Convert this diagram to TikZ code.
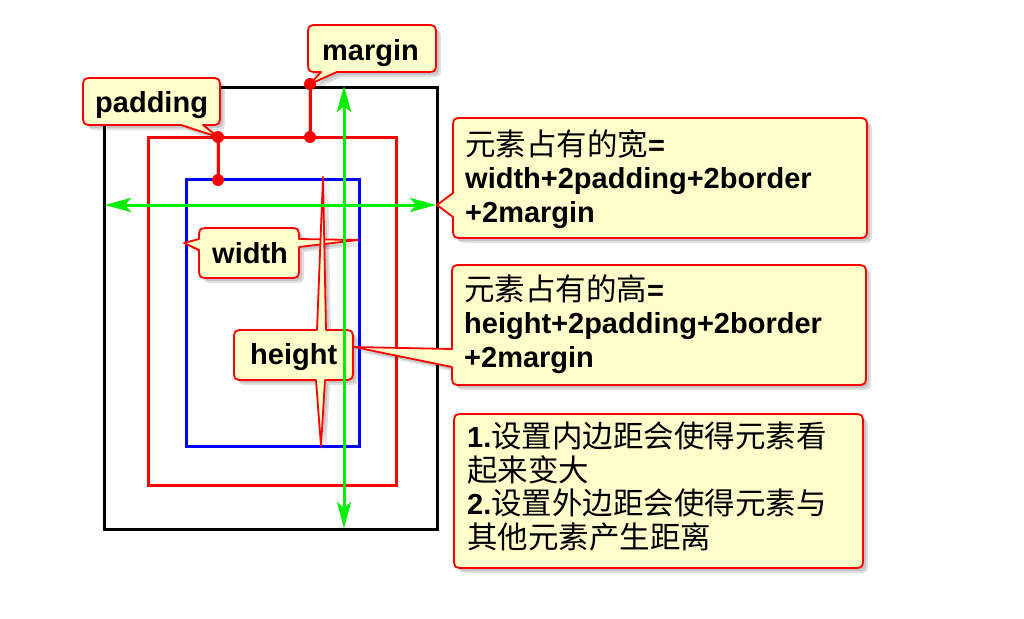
\documentclass[tikz,border=0pt]{standalone}
\usepackage{fontspec}
\setmainfont{Liberation Sans}
\newfontfamily\cjk{Noto Sans CJK SC}
\usetikzlibrary{arrows.meta}
\definecolor{cyellow}{HTML}{FFFFCC}
\definecolor{cgreen}{HTML}{00F000}
\newcommand\zh[1]{{\cjk\mdseries\fontsize{30.5}{33.5}\selectfont #1}}
% rounded callout outline: x1,y1,x2,y2, tails on top, right, bottom, left edge
\newcommand\cpath[8]{(#1+11,#2) #5 -- (#3-11,#2) .. controls (#3,#2) .. (#3,#2+11) #6 -- (#3,#4-11) .. controls (#3,#4) .. (#3-11,#4) #7 -- (#1+11,#4) .. controls (#1,#4) .. (#1,#4-11) #8 -- (#1,#2+11) .. controls (#1,#2) .. (#1+11,#2) -- cycle}
\def\pMargin{\cpath{308}{25}{436}{72}{}{}{-- (337,72) -- (310,84) -- (321,72)}{}}
\def\pPadding{\cpath{83}{78}{220}{125}{}{}{-- (203,125) -- (218,137) -- (181,125)}{}}
\def\pWidth{\cpath{199}{228}{299}{278}{}{-- (299,239) -- (358,240) -- (299,247)}{}{-- (199,250) -- (184,243) -- (199,239)}}
\def\pHeight{\cpath{234}{330}{353}{380}{-- (317,330) -- (323,177) -- (326,330)}{}{-- (325,380) -- (321,446) -- (316,380)}{}}
\def\pWide{\cpath{453}{118}{867}{238}{}{}{}{-- (453,217) -- (437,205) -- (453,193)}}
\def\pHigh{\cpath{452}{265}{866}{385}{}{}{}{-- (452,367) -- (354,347) -- (452,349)}}
\def\pNote{\cpath{454}{414}{863}{568}{}{}{}{}}
\tikzset{
  cbox/.style={draw=red, line width=1.8pt, fill=cyellow, line join=round},
  cshadowA/.style={fill=black, opacity=.12, draw=none, shift={(3,3)}},
  cshadowB/.style={fill=black, opacity=.12, draw=none, shift={(5,5)}},
  lbl/.style={anchor=base west, inner sep=0pt, font=\fontsize{29}{33.5}\selectfont\bfseries},
  ghead/.tip={Stealth[length=26pt,width=14pt,inset=6pt]},
  garrow/.style={draw=cgreen, line width=3pt, ghead-ghead},
  gshadow/.style={draw=black, opacity=.18, line width=3pt, ghead-ghead, shift={(3,4)}},
  dotline/.style={draw=red, line width=3pt},
  dline/.style={draw=black, opacity=.18, line width=4pt, shift={(3,3)}},
  dotc/.style={circle, fill=red, inner sep=0pt, minimum size=12pt},
  frame/.style={line width=3pt},
}
\begin{document}
\begin{tikzpicture}[x=1pt,y=-1pt]
\useasboundingbox (0,0) rectangle (1024,618);
% boxes
\draw[frame, black] (104,87) rectangle (437,529);
\draw[frame, red] (148,137) rectangle (396,485);
\draw[frame, blue] (186,179) rectangle (359,446);
% callout shadows
\fill[cshadowA] \pMargin; \fill[cshadowB] \pMargin;
\fill[cshadowA] \pPadding; \fill[cshadowB] \pPadding;
\fill[cshadowA] \pWidth; \fill[cshadowB] \pWidth;
\fill[cshadowA] \pHeight; \fill[cshadowB] \pHeight;
\fill[cshadowA] \pWide; \fill[cshadowB] \pWide;
\fill[cshadowA] \pHigh; \fill[cshadowB] \pHigh;
\fill[cshadowA] \pNote; \fill[cshadowB] \pNote;
% callouts
\draw[cbox] \pMargin;
\draw[cbox] \pPadding;
\draw[cbox] \pWidth;
\draw[cbox] \pHeight;
\draw[cbox] \pWide;
\draw[cbox] \pHigh;
\draw[cbox] \pNote;
% texts
\node[lbl] (tmargin) at (322,60) {margin};
\node[lbl] (tpadding) at (95,112) {padding};
\node[lbl] (twidth) at (212,263) {width};
\node[lbl] (theight) at (250,364) {height};
\node[lbl, align=left] (twide) at (465,222) {\zh{元素占有的宽}=\\width+2padding+2border\\+2margin};
\node[lbl, align=left] (thigh) at (464,367) {\zh{元素占有的高}=\\height+2padding+2border\\+2margin};
\node[lbl, align=left] (tnote) at (467,548) {1.\zh{设置内边距会使得元素看}\\\zh{起来变大}\\2.\zh{设置外边距会使得元素与}\\\zh{其他元素产生距离}};
% margin / padding markers
\node[dotc] (mtop) at (310,84) {};
\node[dotc] (mbot) at (310,137) {};
\node[dotc] (ptop) at (218,137) {};
\node[dotc] (pbot) at (218,180) {};
\draw[dline] (mtop.center) -- (mbot.center);
\draw[dline] (ptop.center) -- (pbot.center);
\draw[dotline] (mtop.center) -- (mbot.center);
\draw[dotline] (ptop.center) -- (pbot.center);
% green arrows
\coordinate (hl) at (105,205);
\coordinate (hr) at (436,205);
\coordinate (vt) at (344,86);
\coordinate (vb) at (344,528);
\draw[gshadow] (hl) -- (hr);
\draw[gshadow] (vt) -- (vb);
\draw[garrow] (hl) -- (hr);
\draw[garrow] (vt) -- (vb);
\end{tikzpicture}
\end{document}
